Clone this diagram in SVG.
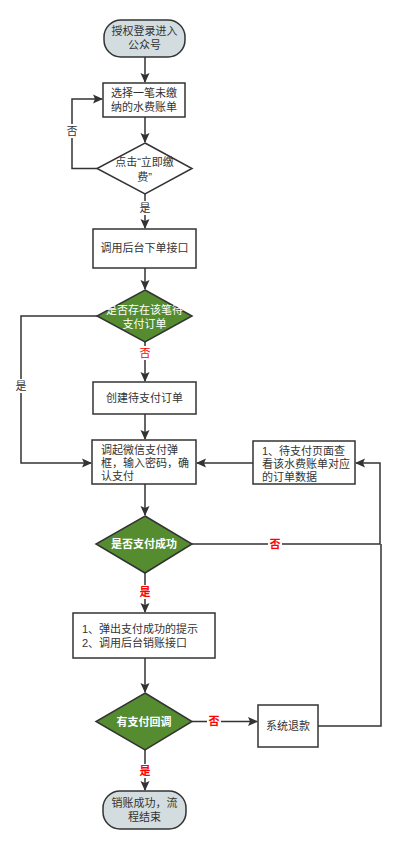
<svg xmlns="http://www.w3.org/2000/svg" width="401" height="850" viewBox="0 0 401 850">
<style>
text{font-family:"Liberation Sans","Noto Sans CJK SC",sans-serif;font-size:11px;fill:#333}
.cjk{font-family:"Noto Sans CJK SC",sans-serif}
.box{fill:#fff;stroke:#333;stroke-width:1.5}
.term{fill:#d3dde0;stroke:#333;stroke-width:1.5}
.dia{fill:#fff;stroke:#333;stroke-width:1.5}
.gdia{fill:#548c2f;stroke:#333;stroke-width:1.5}
.w{fill:#fff}
.c text{text-anchor:middle}
.edge{fill:none;stroke:#333;stroke-width:1.5}
.red{fill:#ff0000}
.lbl{fill:#fff}
</style>
<defs>
<marker id="ah" markerWidth="10" markerHeight="10" refX="9" refY="5" orient="auto" markerUnits="userSpaceOnUse">
<path d="M0,0.5 L10,5 L0,9.5 L2,5 Z" fill="#333"/>
</marker>
</defs>
<rect width="401" height="850" fill="#fff"/>
<g id="edges">
<path class="edge" d="M145,57 V82" marker-end="url(#ah)"/>
<path class="edge" d="M145,117 V142" marker-end="url(#ah)"/>
<path class="edge" d="M97,168.5 H72 V99 H102" marker-end="url(#ah)"/>
<path class="edge" d="M145,194 V228" marker-end="url(#ah)"/>
<path class="edge" d="M145,268 V289" marker-end="url(#ah)"/>
<path class="edge" d="M145,342 V381" marker-end="url(#ah)"/>
<path class="edge" d="M97,316 H21 V463 H91" marker-end="url(#ah)"/>
<path class="edge" d="M145,414 V439" marker-end="url(#ah)"/>
<path class="edge" d="M253,463 H197" marker-end="url(#ah)"/>
<path class="edge" d="M145,484 V515" marker-end="url(#ah)"/>
<path class="edge" d="M192,544 H380 V463 H356" marker-end="url(#ah)"/>
<path class="edge" d="M145,573 V612" marker-end="url(#ah)"/>
<path class="edge" d="M145,658 V692" marker-end="url(#ah)"/>
<path class="edge" d="M192,721.5 H257" marker-end="url(#ah)"/>
<path class="edge" d="M318,726 H381 V544"/>
<path class="edge" d="M145,750 V790" marker-end="url(#ah)"/>
<rect class="lbl" x="65" y="124" width="14" height="14"/>
<text x="72" y="135" text-anchor="middle">否</text>
<rect class="lbl" x="138" y="201" width="14" height="14"/>
<text x="145" y="212" text-anchor="middle">是</text>
<rect class="lbl" x="138" y="346" width="14" height="14"/>
<text x="145" y="357" text-anchor="middle" class="red">否</text>
<rect class="lbl" x="14" y="379" width="14" height="14"/>
<text x="21" y="390" text-anchor="middle">是</text>
<rect class="lbl" x="268" y="537" width="14" height="14"/>
<text x="275" y="548" text-anchor="middle" class="red" font-weight="bold">否</text>
<rect class="lbl" x="138" y="585" width="14" height="14"/>
<text x="145" y="596" text-anchor="middle" class="red" font-weight="bold">是</text>
<rect class="lbl" x="207" y="714" width="14" height="14"/>
<text x="214" y="725" text-anchor="middle" class="red" font-weight="bold">否</text>
<rect class="lbl" x="138" y="764" width="14" height="14"/>
<text x="145" y="775" text-anchor="middle" class="red" font-weight="bold">是</text>
</g>
<g id="start" class="c">
<rect class="term" x="104" y="20" width="81" height="37" rx="17" ry="17"/>
<text x="144.5" y="35">授权登录进入</text>
<text x="144.5" y="49">公众号</text>
</g>
<g id="select" class="c">
<rect class="box" x="103" y="83" width="82" height="34"/>
<text x="144" y="97">选择一笔未缴</text>
<text x="144" y="111">纳的水费账单</text>
</g>
<g id="click" class="c">
<polygon class="dia" points="145,143 192,168.5 145,194 97,168.5"/>
<text x="144.5" y="166">点击“立即缴</text>
<text x="144.5" y="181">费”</text>
</g>
<g id="callorder" class="c">
<rect class="box" x="93" y="229" width="103" height="39"/>
<text x="144.5" y="252">调用后台下单接口</text>
</g>
<g id="exists" class="c">
<polygon class="gdia" points="145,290 192,316 145,342 97,316"/>
<text x="144.5" y="314" class="w">是否存在该笔待</text>
<text x="144.5" y="328" class="w">支付订单</text>
</g>
<g id="create" class="c">
<rect class="box" x="93" y="382" width="103" height="32"/>
<text x="144.5" y="402">创建待支付订单</text>
</g>
<g id="pay">
<rect class="box" x="92" y="440" width="104" height="44"/>
<text x="101" y="454">调起微信支付弹</text>
<text x="101" y="467">框，输入密码，确</text>
<text x="101" y="480">认支付</text>
</g>
<g id="pending">
<rect class="box" x="253" y="441" width="102" height="43"/>
<text x="262" y="455">1、待支付页面查</text>
<text x="262" y="468">看该水费账单对应</text>
<text x="262" y="481">的订单数据</text>
</g>
<g id="success" class="c">
<polygon class="gdia" points="145,516 192,544 145,573 96,544"/>
<text x="144" y="548" class="w" font-weight="bold">是否支付成功</text>
</g>
<g id="notice">
<rect class="box" x="73" y="613" width="142" height="45"/>
<text x="82" y="633">1、弹出支付成功的提示</text>
<text x="82" y="647">2、调用后台销账接口</text>
</g>
<g id="callback" class="c">
<polygon class="gdia" points="145,693 192,721.5 145,750 96,721.5"/>
<text x="144" y="725.5" class="w" font-weight="bold">有支付回调</text>
</g>
<g id="refund" class="c">
<rect class="box" x="258" y="705" width="60" height="42"/>
<text x="288" y="730">系统退款</text>
</g>
<g id="end" class="c">
<rect class="term" x="103" y="791" width="83" height="38" rx="17" ry="17"/>
<text x="144.5" y="807">销账成功，流</text>
<text x="144.5" y="821">程结束</text>
</g>
</svg>
